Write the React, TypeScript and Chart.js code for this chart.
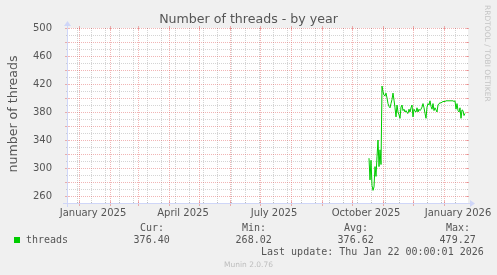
import React, { useEffect, useRef } from 'react';
import { Chart, registerables } from 'chart.js';

Chart.register(...registerables);

// ---------- data ----------
const chartTitle = 'Number of threads - by year';
const yAxisTitle = 'number of threads';
const seriesName = 'threads';
const seriesStartDate = '2025-10-18'; // one value per day from this date
const threadValues = [
  314, 283, 311, 275, 268, 273, 302, 288, 316, 340,
  302, 326, 305, 417, 409, 404, 403, 407, 400, 392,
  388, 386, 392, 398, 407, 397, 386, 373, 390, 380,
  376, 371, 387, 390, 382, 384, 380, 382, 379, 378,
  384, 380, 386, 390, 373, 384, 381, 380, 386, 380,
  384, 382, 384, 387, 392, 386, 378, 371, 387, 392,
  390, 396, 388, 384, 392, 382, 386, 383, 380, 390,
  392, 393, 393, 394, 395, 395, 395, 396, 396, 396,
  396, 396, 396, 396, 396, 395, 396, 384, 392, 382,
  380, 386, 371, 383, 382, 375, 378,
];
const yTickValues = [260, 280, 300, 320, 340, 360, 380, 400, 420, 440, 460, 480, 500];
const yMin = 250;
const yMax = 500;
const yMinorStep = 10;
const xTickLabels = ['January 2025', 'April 2025', 'July 2025', 'October 2025', 'January 2026'];
const xTickDates = ['2025-01-15', '2025-04-15', '2025-07-15', '2025-10-15', '2026-01-15'];
const rangeStartDate = '2024-12-20';
const rangeEndDate = '2026-01-25';
const minorGridStartDate = '2024-12-30';
const minorGridStepDays = 14;
const legendHeaders = ['Cur:', 'Min:', 'Avg:', 'Max:'];
const legendValues = ['376.40', '268.02', '376.62', '479.27'];
const lastUpdateText = 'Last update: Thu Jan 22 00:00:01 2026';
const footerText = 'Munin 2.0.76';
const watermarkText = 'RRDTOOL / TOBI OETIKER';

// ---------- helpers ----------
const DAY_MS = 86400000;
const EPOCH = Date.UTC(2025, 0, 1);
const dayOf = (s: string) => {
  const [y, m, d] = s.split('-').map(Number);
  return Math.round((Date.UTC(y, m - 1, d) - EPOCH) / DAY_MS);
};
const xMin = dayOf(rangeStartDate);
const xMax = dayOf(rangeEndDate);
const startDay = dayOf(seriesStartDate);
const xTickDays = xTickDates.map(dayOf);

const monthStarts: number[] = [];
for (let y = 2024; y <= 2026; y++) {
  for (let m = 0; m < 12; m++) {
    const d = Math.round((Date.UTC(y, m, 1) - EPOCH) / DAY_MS);
    if (d >= xMin && d <= xMax) monthStarts.push(d);
  }
}
const minorDays: number[] = [];
for (let d = dayOf(minorGridStartDate); d <= xMax; d += minorGridStepDays) {
  if (d >= xMin && !monthStarts.includes(d)) minorDays.push(d);
}

const MAJOR = 'rgba(222,79,79,0.42)';
const MINOR = 'rgba(143,143,143,0.38)';
const AXIS = '#CFD6F8';
const FONT_COLOR = '#555555';

const muninPlugin = {
  id: 'muninDecor',
  beforeDraw(chart: any) {
    const { ctx, chartArea: a } = chart;
    ctx.save();
    ctx.fillStyle = '#ffffff';
    ctx.fillRect(a.left, a.top, a.right - a.left, a.bottom - a.top);
    ctx.restore();
  },
  beforeDatasetsDraw(chart: any) {
    const { ctx, chartArea: a, scales } = chart;
    const xs = scales.x;
    const ys = scales.y;
    ctx.save();
    ctx.lineWidth = 1;
    const vline = (d: number, color: string, below: number, above: number) => {
      const px = Math.round(xs.getPixelForValue(d)) + 0.5;
      ctx.strokeStyle = color;
      ctx.setLineDash([]);
      ctx.beginPath();
      ctx.moveTo(px, a.bottom + below);
      ctx.lineTo(px, a.bottom - above);
      ctx.moveTo(px, a.top - below + 1);
      ctx.lineTo(px, a.top + above);
      ctx.stroke();
      ctx.setLineDash([1, 1]);
      ctx.beginPath();
      ctx.moveTo(px, a.bottom);
      ctx.lineTo(px, a.top);
      ctx.stroke();
    };
    const hline = (v: number, color: string, out: number, inn: number) => {
      const py = Math.round(ys.getPixelForValue(v)) + 0.5;
      ctx.strokeStyle = color;
      ctx.setLineDash([]);
      ctx.beginPath();
      ctx.moveTo(a.left - out, py);
      ctx.lineTo(a.left + inn, py);
      ctx.moveTo(a.right + out - 1, py);
      ctx.lineTo(a.right - inn, py);
      ctx.stroke();
      ctx.setLineDash([1, 1]);
      ctx.beginPath();
      ctx.moveTo(a.left, py);
      ctx.lineTo(a.right, py);
      ctx.stroke();
    };
    minorDays.forEach((d) => vline(d, MINOR, 1, 1));
    for (let v = yMin + yMinorStep; v < yMax; v += yMinorStep) {
      if (!yTickValues.includes(v)) hline(v, MINOR, 1, 1);
    }
    monthStarts.forEach((d) => vline(d, MAJOR, 3, 2));
    yTickValues.forEach((v) => hline(v, MAJOR, 2, 2));
    ctx.restore();
  },
  afterDraw(chart: any) {
    const { ctx, chartArea: a } = chart;
    ctx.save();
    // axes
    ctx.strokeStyle = AXIS;
    ctx.fillStyle = AXIS;
    ctx.lineWidth = 1;
    ctx.setLineDash([]);
    const by = a.bottom + 0.5;
    const lx = a.left + 0.5;
    ctx.beginPath();
    ctx.moveTo(a.left - 4, by);
    ctx.lineTo(a.right + 4, by);
    ctx.moveTo(lx, a.bottom + 4);
    ctx.lineTo(lx, a.top - 4);
    ctx.stroke();
    ctx.beginPath();
    ctx.moveTo(a.right + 2, a.bottom - 3);
    ctx.lineTo(a.right + 2, a.bottom + 4);
    ctx.lineTo(a.right + 7, a.bottom + 0.5);
    ctx.closePath();
    ctx.fill();
    ctx.beginPath();
    ctx.moveTo(a.left - 3, a.top - 2);
    ctx.lineTo(a.left + 4, a.top - 2);
    ctx.lineTo(a.left + 0.5, a.top - 7);
    ctx.closePath();
    ctx.fill();

    // title
    ctx.fillStyle = FONT_COLOR;
    ctx.font = '12.6px "DejaVu Sans"';
    ctx.textAlign = 'center';
    ctx.textBaseline = 'alphabetic';
    ctx.fillText(chartTitle, 248.5, 23);

    // y axis title
    ctx.save();
    ctx.translate(16.5, 114);
    ctx.rotate(-Math.PI / 2);
    ctx.font = '12.6px "DejaVu Sans"';
    ctx.fillText(yAxisTitle, 0, 0);
    ctx.restore();

    // legend
    ctx.fillStyle = '#00cc00';
    ctx.fillRect(14, 237, 6, 6);
    ctx.fillStyle = FONT_COLOR;
    ctx.font = '10px "DejaVu Sans Mono"';
    ctx.textAlign = 'left';
    ctx.fillText(seriesName, 26, 243);
    legendHeaders.forEach((h, i) => ctx.fillText(h, 140 + i * 102, 231));
    legendValues.forEach((v, i) => ctx.fillText(v, 133.6 + i * 102, 243));
    ctx.fillText(lastUpdateText, 261, 255);

    // footer
    ctx.fillStyle = '#bdbdbd';
    ctx.font = '7.5px "DejaVu Sans"';
    ctx.textAlign = 'center';
    ctx.fillText(footerText, 248.5, 267);

    // watermark
    ctx.save();
    ctx.translate(485, 5);
    ctx.rotate(Math.PI / 2);
    ctx.textAlign = 'left';
    ctx.fillStyle = '#c4c4c4';
    ctx.font = '7.5px "DejaVu Sans"';
    ctx.fillText(watermarkText, 0, 0);
    ctx.restore();

    ctx.restore();
  },
};

export default function App() {
  const canvasRef = useRef<HTMLCanvasElement | null>(null);

  useEffect(() => {
    const canvas = canvasRef.current;
    if (!canvas) return;
    const chart = new Chart(canvas, {
      type: 'line',
      data: {
        datasets: [
          {
            label: seriesName,
            data: threadValues.map((v, i) => ({ x: startDay + i, y: v })),
            borderColor: '#00cc00',
            backgroundColor: '#00cc00',
            borderWidth: 1,
            pointRadius: 0,
            tension: 0,
            fill: false,
          },
        ],
      },
      options: {
        responsive: false,
        animation: false,
        devicePixelRatio: 1,
        layout: { padding: { top: 28, right: 29, left: 0, bottom: 0 } },
        plugins: {
          legend: { display: false },
          title: { display: false },
          tooltip: { enabled: false },
        },
        scales: {
          x: {
            type: 'linear',
            min: xMin,
            max: xMax,
            grid: { display: false },
            border: { display: false },
            ticks: {
              autoSkip: false,
              maxRotation: 0,
              minRotation: 0,
              padding: -4,
              color: FONT_COLOR,
              font: { family: 'DejaVu Sans', size: 10 },
              callback: (value: any) => {
                const idx = xTickDays.indexOf(Number(value));
                return idx >= 0 ? xTickLabels[idx] : '';
              },
            },
            afterBuildTicks: (scale: any) => {
              scale.ticks = xTickDays.map((v) => ({ value: v }));
            },
            afterFit: (scale: any) => {
              scale.height = 72;
            },
          },
          y: {
            type: 'linear',
            min: yMin,
            max: yMax,
            grid: { display: false },
            border: { display: false },
            ticks: {
              padding: 7,
              color: FONT_COLOR,
              font: { family: 'DejaVu Sans', size: 10 },
              callback: (value: any) => String(value),
            },
            afterBuildTicks: (scale: any) => {
              scale.ticks = yTickValues.map((v) => ({ value: v }));
            },
            afterFit: (scale: any) => {
              scale.width = 67;
            },
          },
        },
      },
      plugins: [muninPlugin],
    } as any);
    return () => chart.destroy();
  }, []);

  return (
    <div
      style={{
        position: 'fixed',
        left: 0,
        top: 0,
        width: 497,
        height: 275,
        background: '#f0f0f0',
      }}
    >
      <canvas ref={canvasRef} width={497} height={275} style={{ display: 'block' }} />
    </div>
  );
}
